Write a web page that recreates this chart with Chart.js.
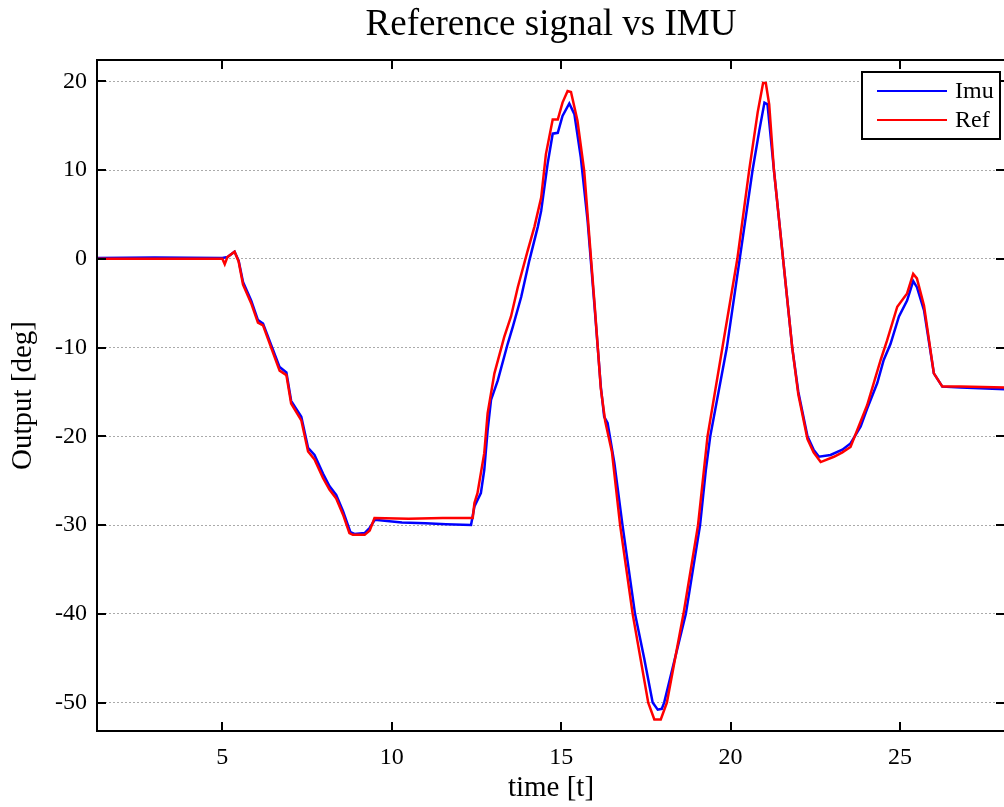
<!DOCTYPE html>
<html>
<head>
<meta charset="utf-8">
<script src="https://cdn.jsdelivr.net/npm/chart.js@4.4.1/dist/chart.umd.min.js"></script>
<style>
  body { margin: 0; background: #fff; }
  #wrap { width: 1004px; height: 807px; overflow: hidden; }
</style>
</head>
<body>
<div id="wrap"><canvas id="myChart" width="1008" height="807"></canvas></div>
<script>
var chartTitle = "Reference signal vs IMU";

var imuT = [1.3, 3, 5.0, 5.15, 5.36, 5.48, 5.61, 5.85, 6.05, 6.2, 6.44, 6.69, 6.89, 7.03, 7.33, 7.53, 7.72, 7.97, 8.16, 8.36, 8.56, 8.78, 8.9, 9.2, 9.35, 9.5, 10.3, 11.0, 11.6, 12.34, 12.44, 12.63, 12.73, 12.83, 12.93, 13.13, 13.42, 13.57, 13.82, 14.06, 14.31, 14.41, 14.6, 14.75, 14.9, 15.04, 15.24, 15.39, 15.58, 15.78, 15.98, 16.17, 16.27, 16.37, 16.57, 16.81, 17.18, 17.45, 17.7, 17.85, 17.97, 18.04, 18.68, 19.1, 19.27, 19.4, 19.89, 20.27, 20.65, 20.85, 21.0, 21.09, 21.28, 21.55, 21.82, 22.0, 22.27, 22.45, 22.61, 22.95, 23.3, 23.54, 23.84, 24.03, 24.33, 24.52, 24.72, 24.97, 25.21, 25.39, 25.5, 25.71, 26.0, 26.25, 26.79, 28.1];
var imuY = [0.1, 0.15, 0.1, 0.2, 0.8, -0.2, -2.6, -4.7, -6.9, -7.3, -9.7, -12.2, -12.8, -16.0, -17.8, -21.3, -22.1, -24.2, -25.6, -26.6, -28.4, -30.8, -31.0, -30.9, -30.3, -29.4, -29.7, -29.8, -29.9, -30.0, -27.9, -26.4, -23.8, -19.3, -15.9, -13.7, -9.6, -7.7, -4.3, -0.2, 3.6, 5.4, 10.7, 14.1, 14.2, 16.1, 17.5, 16.3, 11.4, 4.3, -5.1, -14.4, -17.8, -18.5, -23.0, -30.0, -40.0, -45.0, -50.0, -50.8, -50.7, -50.0, -40.0, -30.0, -23.8, -20.0, -10.0, 0.0, 10.0, 14.5, 17.6, 17.4, 10.0, 0.0, -10.0, -15.0, -20.0, -21.5, -22.3, -22.1, -21.5, -20.8, -18.9, -16.9, -14.0, -11.4, -9.6, -6.5, -4.7, -2.5, -3.2, -5.8, -12.9, -14.4, -14.5, -14.7];

var refT = [1.3, 3, 5.0, 5.07, 5.15, 5.36, 5.48, 5.61, 5.85, 6.05, 6.2, 6.44, 6.69, 6.89, 7.03, 7.33, 7.53, 7.72, 7.97, 8.16, 8.36, 8.56, 8.75, 8.85, 9.2, 9.35, 9.49, 10.5, 11.5, 12.39, 12.44, 12.53, 12.73, 12.83, 13.03, 13.32, 13.52, 13.72, 14.01, 14.21, 14.41, 14.55, 14.75, 14.9, 15.04, 15.19, 15.29, 15.48, 15.68, 15.98, 16.17, 16.3, 16.5, 16.74, 17.11, 17.57, 17.75, 17.94, 18.12, 18.61, 19.04, 19.32, 19.76, 20.2, 20.55, 20.8, 20.96, 21.04, 21.14, 21.28, 21.55, 21.82, 22.0, 22.27, 22.45, 22.66, 23.05, 23.3, 23.54, 24.03, 24.43, 24.62, 24.92, 25.21, 25.39, 25.5, 25.71, 26.0, 26.25, 26.79, 28.1];
var refY = [0, 0, 0, -0.6, 0.2, 0.8, -0.3, -2.9, -5.0, -7.2, -7.5, -10.0, -12.6, -13.1, -16.3, -18.2, -21.7, -22.6, -24.7, -26.0, -27.0, -28.8, -30.9, -31.1, -31.1, -30.6, -29.2, -29.3, -29.2, -29.2, -27.5, -26.4, -21.9, -17.4, -12.9, -8.8, -6.5, -3.2, 0.9, 3.6, 6.9, 11.8, 15.7, 15.7, 17.6, 18.9, 18.8, 15.6, 9.9, -4.8, -14.6, -18.3, -21.8, -30.0, -40.0, -50.0, -51.9, -51.9, -50.0, -40.0, -30.0, -20.0, -10.0, 0.0, 10.0, 16.5, 19.8, 19.8, 17.4, 10.0, 0.0, -10.0, -15.3, -20.3, -21.8, -22.9, -22.3, -21.8, -21.2, -16.5, -11.4, -9.2, -5.4, -3.9, -1.7, -2.2, -5.3, -12.9, -14.4, -14.4, -14.5];

var seriesNames = ["Imu", "Ref"];
var seriesColors = ["#0000ff", "#ff0000"];

function toPoints(t, y) {
    var pts = [];
    for (var i = 0; i < t.length; i++) {
        pts.push({ x: t[i], y: y[i] });
    }
    return pts;
}

var serif = "'Liberation Serif', 'DejaVu Serif', serif";

// title over the plot area, box, inward ticks and the legend inside the plot
var framePlugin = {
    id: 'frame',
    afterDatasetsDraw: function(chart) {
        var ctx = chart.ctx;
        var a = chart.chartArea;
        var xs = chart.scales.x;
        var ys = chart.scales.y;
        ctx.save();

        ctx.fillStyle = "#000";
        ctx.font = "37px " + serif;
        ctx.textAlign = "center";
        ctx.textBaseline = "middle";
        ctx.fillText(chartTitle, (a.left + a.right) / 2, 25);

        ctx.strokeStyle = "#000";
        ctx.lineWidth = 2;
        ctx.beginPath();
        xs.ticks.forEach(function(t) {
            var px = Math.round(xs.getPixelForValue(t.value));
            ctx.moveTo(px, a.bottom); ctx.lineTo(px, a.bottom - 9);
            ctx.moveTo(px, a.top); ctx.lineTo(px, a.top + 9);
        });
        ys.ticks.forEach(function(t) {
            var py = Math.round(ys.getPixelForValue(t.value));
            ctx.moveTo(a.left, py); ctx.lineTo(a.left + 9, py);
            ctx.moveTo(a.right, py); ctx.lineTo(a.right - 9, py);
        });
        ctx.stroke();
        ctx.strokeRect(a.left, a.top, a.right - a.left, a.bottom - a.top);

        // legend
        var lx = 862, ly = 72, lw = 138, lh = 67;
        ctx.fillStyle = "#fff";
        ctx.fillRect(lx, ly, lw, lh);
        ctx.strokeRect(lx, ly, lw, lh);
        ctx.font = "24px " + serif;
        ctx.textAlign = "left";
        for (var i = 0; i < seriesNames.length; i++) {
            var yy = ly + 19 + i * 29;
            ctx.strokeStyle = seriesColors[i];
            ctx.beginPath();
            ctx.moveTo(lx + 15, yy);
            ctx.lineTo(lx + 85, yy);
            ctx.stroke();
            ctx.fillStyle = "#000";
            ctx.fillText(seriesNames[i], lx + 93, yy + 1);
        }
        ctx.restore();
    }
};

var chartdata = {
    datasets: [{
        label: seriesNames[0],
        data: toPoints(imuT, imuY),
        borderColor: seriesColors[0],
        borderWidth: 2.5,
        pointRadius: 0,
        tension: 0,
        order: 1
    }, {
        label: seriesNames[1],
        data: toPoints(refT, refY),
        borderColor: seriesColors[1],
        borderWidth: 2.5,
        pointRadius: 0,
        tension: 0,
        order: 0
    }]
};

var ctx = document.getElementById("myChart");

var LineGraph = new Chart(ctx, {
    type: 'line',
    data: chartdata,
    plugins: [framePlugin],
    options: {
        responsive: false,
        animation: false,
        layout: { padding: { left: 0, right: 3, top: 60, bottom: 0 } },
        plugins: {
            legend: { display: false },
            tooltip: { enabled: false },
            title: { display: false }
        },
        scales: {
            x: {
                type: 'linear',
                min: 1.3,
                max: 28.1,
                afterFit: function(s) { s.height = 76; },
                grid: { display: false, drawTicks: false },
                border: { display: false },
                ticks: {
                    stepSize: 5,
                    includeBounds: false,
                    padding: 12,
                    color: "#000",
                    maxRotation: 0,
                    font: { family: serif, size: 24 }
                },
                title: {
                    display: true,
                    text: "time [t]",
                    color: "#000",
                    font: { family: serif, size: 29 },
                    padding: { top: 0, bottom: 1 }
                }
            },
            y: {
                min: -53.2,
                max: 22.4,
                afterFit: function(s) { s.width = 97; },
                grid: {
                    color: "#aaa",
                    lineWidth: 1,
                    drawTicks: false
                },
                border: { display: false, dash: [2, 2] },
                ticks: {
                    stepSize: 10,
                    includeBounds: false,
                    padding: 10,
                    color: "#000",
                    font: { family: serif, size: 24 }
                },
                title: {
                    display: true,
                    text: "Output [deg]",
                    color: "#000",
                    font: { family: serif, size: 29 },
                    padding: { top: 6, bottom: 0 }
                }
            }
        }
    }
});
</script>
</body>
</html>
